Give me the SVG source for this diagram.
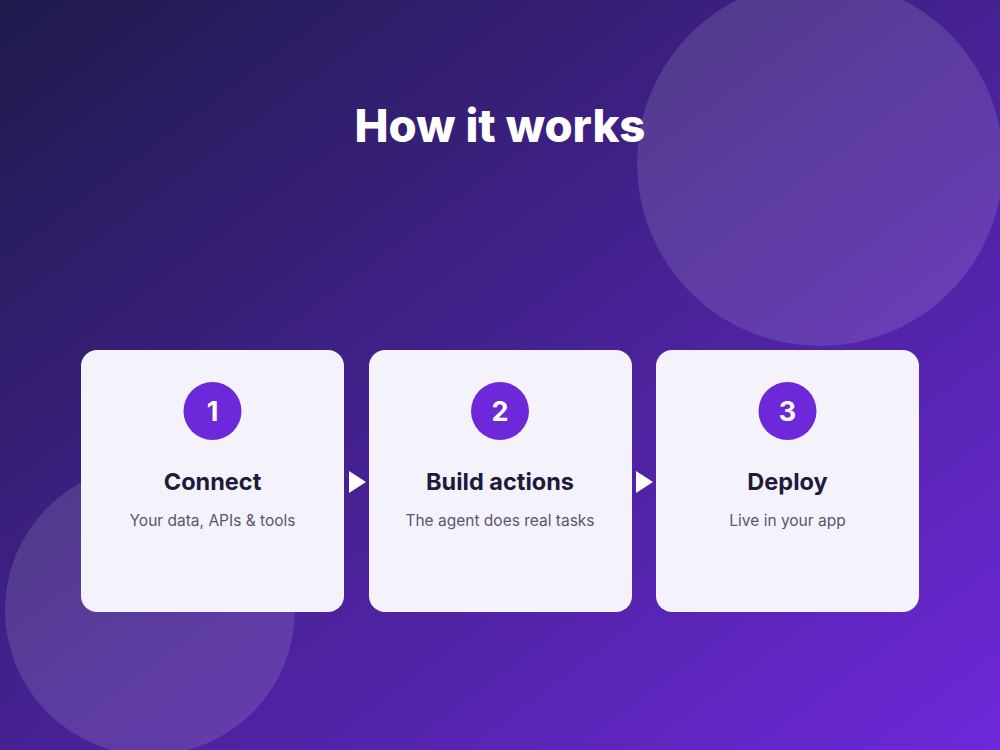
<svg xmlns="http://www.w3.org/2000/svg" width="1000" height="750" viewBox="0 0 1000 750">
  <defs>
    <linearGradient id="bg" x1="0" y1="0" x2="1" y2="1">
      <stop offset="0" stop-color="#1e1b4b"/>
      <stop offset="1" stop-color="#6d28d9"/>
    </linearGradient>
    <style>
      .card { fill: #f4f2fa; }
      .badge { fill: #6d28d9; }
      .num { font-family: Inter, "Liberation Sans", sans-serif; font-weight: 700; font-size: 27px; fill: #ffffff; text-anchor: middle; }
      .ttl { font-family: Inter, "Liberation Sans", sans-serif; font-weight: 700; font-size: 23.5px; fill: #1e1b3a; text-anchor: middle; }
      .sub { font-family: Inter, "Liberation Sans", sans-serif; font-weight: 400; font-size: 15.5px; fill: #5b5575; text-anchor: middle; }
      .arrow { fill: #ffffff; }
      .deco { fill: #ffffff; fill-opacity: 0.12; }
    </style>
  </defs>
  <rect width="1000" height="750" fill="url(#bg)"/>
  <circle class="deco" cx="820" cy="163" r="183"/>
  <circle class="deco" cx="150" cy="610" r="145"/>
  <text x="500" y="142" font-family="Inter, 'Liberation Sans', sans-serif" font-weight="800" font-size="45.5" fill="#ffffff" text-anchor="middle">How it works</text>

  <g id="connectors">
    <polygon class="arrow" points="349,471 366,482 349,493"/>
    <polygon class="arrow" points="636,471 653,482 636,493"/>
  </g>

  <g id="step1">
    <rect class="card" x="81" y="350" width="263" height="262" rx="16"/>
    <circle class="badge" cx="212.5" cy="411" r="29"/>
    <text class="num" x="212.5" y="421">1</text>
    <text class="ttl" x="212.5" y="490">Connect</text>
    <text class="sub" x="212.5" y="526">Your data, APIs &amp; tools</text>
  </g>
  <g id="step2">
    <rect class="card" x="369" y="350" width="263" height="262" rx="16"/>
    <circle class="badge" cx="500" cy="411" r="29"/>
    <text class="num" x="500" y="421">2</text>
    <text class="ttl" x="500" y="490">Build actions</text>
    <text class="sub" x="500" y="526">The agent does real tasks</text>
  </g>
  <g id="step3">
    <rect class="card" x="656" y="350" width="263" height="262" rx="16"/>
    <circle class="badge" cx="787.5" cy="411" r="29"/>
    <text class="num" x="787.5" y="421">3</text>
    <text class="ttl" x="787.5" y="490">Deploy</text>
    <text class="sub" x="787.5" y="526">Live in your app</text>
  </g>
</svg>
